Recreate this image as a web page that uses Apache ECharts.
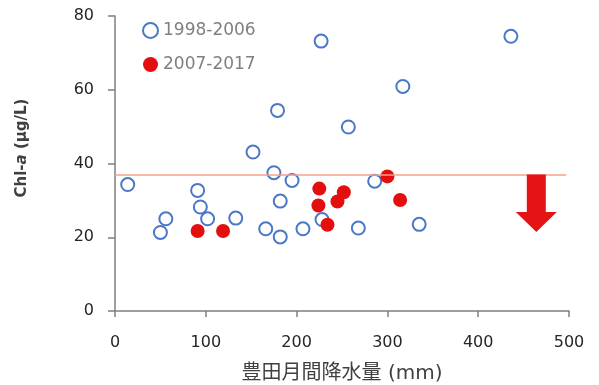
<!DOCTYPE html>
<html>
<head>
<meta charset="utf-8">
<script src="https://cdn.jsdelivr.net/npm/echarts@6/dist/echarts.min.js"></script>
<style>html,body{margin:0;padding:0;background:#fff;}#c{width:599px;height:385px;}</style>
</head>
<body>
<div id="c"></div>
<script>
var series1998 = [[14,34.3],[50,21.3],[56,25.0],[91,32.7],[94,28.2],[102,25.0],[133,25.2],[152,43.1],[166,22.3],[175,37.5],[179,54.4],[182,20.1],[182,29.8],[195,35.4],[207,22.3],[227,73.2],[228,24.8],[257,49.9],[268,22.5],[286,35.2],[317,60.9],[335,23.5],[436,74.5]];
var series2007 = [[91,21.7],[119,21.7],[224,28.6],[225,33.2],[234,23.4],[245,29.7],[252,32.2],[300,36.5],[314,30.1]];
var thresholdValue = 37;
var thresholdRange = [0, 497];
var arrowData = [[464, 37, 21.4]];
var xTicks = [0, 100, 200, 300, 400, 500];
var yTicks = [0, 20, 40, 60, 80];
var legendNames = ['1998-2006', '2007-2017'];

var chart = echarts.init(document.getElementById('c'));
var axisCol = '#7f7f7f';
var option = {
  animation: false,
  backgroundColor: '#fff',
  grid: {left: 115, right: 30, top: 16, bottom: 74, containLabel: false, outerBoundsMode: 'none'},
  legend: {
    orient: 'vertical', left: 137, top: 17, itemGap: 17, itemWidth: 17, itemHeight: 15,
    textStyle: {fontFamily: 'DejaVu Sans', fontSize: 17, color: '#808080', padding: [0, 0, 0, -1]},
    data: [
      {name: legendNames[0], icon: 'circle'},
      {name: legendNames[1], icon: 'circle'}
    ]
  },
  xAxis: {
    type: 'value', min: xTicks[0], max: xTicks[xTicks.length-1], interval: 100,
    name: '豊田月間降水量 (mm)', nameLocation: 'middle', nameGap: 53,
    nameTextStyle: {fontFamily: 'DejaVu Sans, Noto Sans CJK JP', fontSize: 20, color: '#404040'},
    axisLine: {show: true, lineStyle: {color: axisCol, width: 1.5}},
    axisTick: {show: true, inside: false, length: 6, lineStyle: {color: axisCol, width: 1.5}},
    axisLabel: {margin: 24, fontFamily: 'DejaVu Sans', fontSize: 16, color: '#262626'},
    splitLine: {show: false}
  },
  yAxis: {
    type: 'value', min: yTicks[0], max: yTicks[yTicks.length-1], interval: 20,
    axisLine: {show: true, lineStyle: {color: axisCol, width: 1.5}},
    axisTick: {show: true, inside: false, length: 7, lineStyle: {color: axisCol, width: 1.5}},
    axisLabel: {margin: 21, fontFamily: 'DejaVu Sans', fontSize: 16, color: '#262626'},
    splitLine: {show: false}
  },
  series: [
    {
      name: legendNames[0], type: 'scatter', data: series1998, symbol: 'circle', symbolSize: 13,
      itemStyle: {color: '#ffffff', borderColor: '#4a78c8', borderWidth: 2, opacity: 1},
      z: 3
    },
    {
      name: legendNames[1], type: 'scatter', data: series2007, symbol: 'circle', symbolSize: 14,
      itemStyle: {color: '#e30f0f', borderWidth: 0, opacity: 1},
      z: 4,
      markLine: {
        silent: true, symbol: 'none', label: {show: false},
        lineStyle: {color: '#f4a08c', width: 1.6, type: 'solid'},
        data: [[{coord: [thresholdRange[0], thresholdValue]}, {coord: [thresholdRange[1], thresholdValue]}]]
      }
    },
    {
      type: 'custom', data: arrowData, z: 5, silent: true,
      renderItem: function (params, api) {
        var top = api.coord([api.value(0), api.value(1)]);
        var tip = api.coord([api.value(0), api.value(2)]);
        var cx = top[0], sw = 9.5, hw = 20.5, hl = 20;
        var hy = tip[1] - hl;
        return {
          type: 'polygon',
          shape: {points: [[cx - sw, top[1]], [cx + sw, top[1]], [cx + sw, hy], [cx + hw, hy], [cx, tip[1]], [cx - hw, hy], [cx - sw, hy]]},
          style: {fill: '#e41414'}
        };
      }
    }
  ],
  graphic: [{
    type: 'text', x: 22, y: 148, rotation: Math.PI / 2,
    style: {
      text: '{n|Chl-}{i|a}{n| (μg/L)}', textAlign: 'center', textVerticalAlign: 'middle',
      rich: {
        n: {fontFamily: 'DejaVu Sans', fontSize: 15, fontWeight: 'bold', fill: '#404040'},
        i: {fontFamily: 'DejaVu Sans', fontSize: 15, fontWeight: 'bold', fontStyle: 'italic', fill: '#404040'}
      }
    }
  }]
};
chart.setOption(option);
</script>
</body>
</html>
